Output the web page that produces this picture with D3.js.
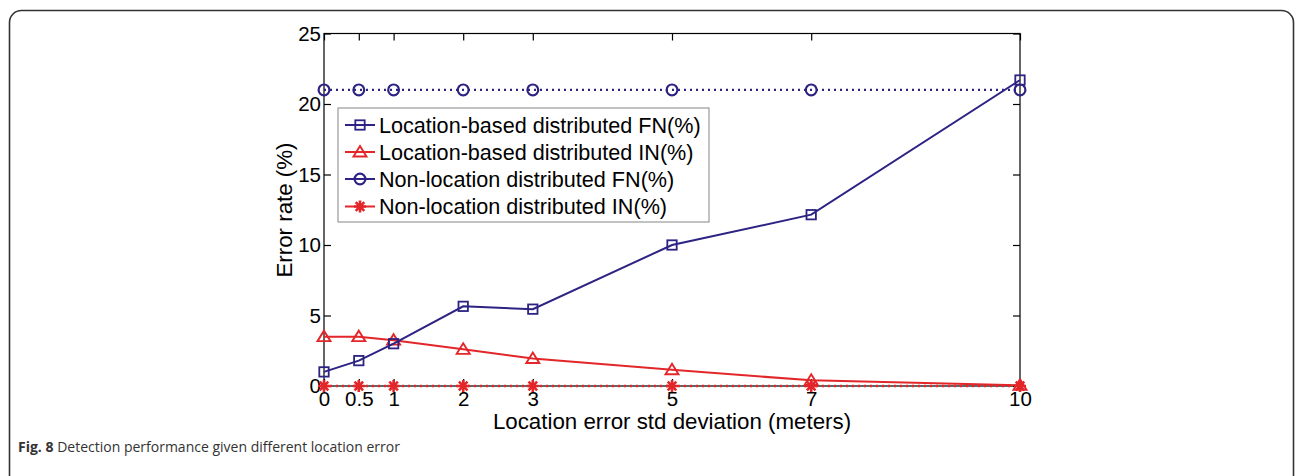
<!DOCTYPE html>
<html><head><meta charset="utf-8">
<script src="https://cdn.jsdelivr.net/npm/d3@7"></script>
<style>body{margin:0;background:#fff;}svg{display:block;}</style>
</head><body>
<svg id="c" width="1296" height="476"></svg>
<script>
const xValues = [0, 0.5, 1, 2, 3, 5, 7, 10];
const xTickLabels = ["0", "0.5", "1", "2", "3", "5", "7", "10"];
const yTicks = [0, 5, 10, 15, 20, 25];
const locFN = [1.0, 1.8, 3.0, 5.65, 5.45, 10.0, 12.15, 21.7];
const locIN = [3.5, 3.5, 3.25, 2.6, 1.95, 1.15, 0.4, 0.05];
const nonFN = [21, 21, 21, 21, 21, 21, 21, 21];
const nonIN = [0, 0, 0, 0, 0, 0, 0, 0];
const seriesNames = ["Location-based distributed FN(%)", "Location-based distributed IN(%)", "Non-location distributed FN(%)", "Non-location distributed IN(%)"];

const NAVY = "#2c2383", RED = "#e2262a";
const svg = d3.select("#c");
const font = "'Liberation Sans', Arial, sans-serif";

// frame
svg.append("rect").attr("x", 9.5).attr("y", 10.5).attr("width", 1284).attr("height", 480)
  .attr("rx", 12).attr("fill", "none").attr("stroke", "#333").attr("stroke-width", 1.6);

const L = 324, R = 1020, T = 33.5, B = 386;
const x = d3.scaleLinear().domain([0, 10]).range([L, R]);
const y = d3.scaleLinear().domain([0, 25]).range([B, T]);

const g = svg.append("g");
g.append("rect").attr("x", L).attr("y", T).attr("width", R - L).attr("height", B - T)
  .attr("fill", "none").attr("stroke", "#000").attr("stroke-width", 1.2);

const axB = d3.axisBottom(x).tickValues(xValues).tickFormat((d, i) => xTickLabels[i]).tickSizeInner(-7).tickSizeOuter(0).tickPadding(5);
const axT = d3.axisTop(x).tickValues(xValues).tickFormat("").tickSizeInner(-7).tickSizeOuter(0);
const axL = d3.axisLeft(y).tickValues(yTicks).tickSizeInner(-7).tickSizeOuter(0).tickPadding(3);
const axR = d3.axisRight(y).tickValues(yTicks).tickFormat("").tickSizeInner(-7).tickSizeOuter(0);
function style(sel) {
  sel.select(".domain").remove();
  sel.selectAll("line").attr("stroke", "#000").attr("stroke-width", 1.2);
  sel.selectAll("text").attr("font-family", font).attr("font-size", 20.5).attr("fill", "#000");
}
g.append("g").attr("transform", `translate(0,${B})`).call(axB).call(style);
g.append("g").attr("transform", `translate(0,${T})`).call(axT).call(style);
g.append("g").attr("transform", `translate(${L},0)`).call(axL).call(style);
g.append("g").attr("transform", `translate(${R},0)`).call(axR).call(style);

svg.append("text").attr("x", 672).attr("y", 429).attr("text-anchor", "middle")
  .attr("font-family", font).attr("font-size", 22.3).text("Location error std deviation (meters)");
svg.append("text").attr("transform", "translate(292,210) rotate(-90)").attr("text-anchor", "middle")
  .attr("font-family", font).attr("font-size", 22.3).text("Error rate (%)");

const line = d3.line().x((d, i) => x(xValues[i])).y(d => y(d));

function marker(sel, type, color) {
  if (type === "square") sel.append("rect").attr("x", -4.7).attr("y", -4.7).attr("width", 9.4).attr("height", 9.4).attr("fill", "none").attr("stroke", color).attr("stroke-width", 1.8);
  if (type === "triangle") sel.append("path").attr("d", "M0,-6L6.5,4.5L-6.5,4.5Z").attr("fill", "none").attr("stroke", color).attr("stroke-width", 1.9);
  if (type === "circle") sel.append("circle").attr("r", 5.4).attr("fill", "none").attr("stroke", color).attr("stroke-width", 2.2);
  if (type === "star") sel.append("path").attr("d", "M-6,0H6M0,-6V6M-4.3,-4.3L4.3,4.3M-4.3,4.3L4.3,-4.3").attr("fill", "none").attr("stroke", color).attr("stroke-width", 2.6);
}

const series = [
  {v: locFN, c: NAVY, m: "square", dash: null},
  {v: locIN, c: RED, m: "triangle", dash: null},
  {v: nonFN, c: NAVY, m: "circle", dash: "2,4"},
  {v: nonIN, c: RED, m: "star", dash: "2,4"}
];
series.slice().reverse().forEach(s => {
  g.append("path").attr("d", line(s.v)).attr("fill", "none").attr("stroke", s.c)
    .attr("stroke-width", s.dash ? 2.4 : 2).attr("stroke-dasharray", s.dash);
  s.v.forEach((d, i) => {
    marker(g.append("g").attr("transform", `translate(${x(xValues[i])},${y(d)})`), s.m, s.c);
  });
});

// legend
const lg = svg.append("g");
lg.append("rect").attr("x", 338).attr("y", 108).attr("width", 371).attr("height", 114)
  .attr("fill", "#fff").attr("stroke", "#999").attr("stroke-width", 1.2);
const rowsY = [125, 152, 179, 206.5];
series.forEach((s, i) => {
  const yy = rowsY[i];
  lg.append("line").attr("x1", 345).attr("x2", 375).attr("y1", yy).attr("y2", yy).attr("stroke", s.c).attr("stroke-width", 2);
  marker(lg.append("g").attr("transform", `translate(360,${yy})`), s.m, s.c);
  lg.append("text").attr("x", 379).attr("y", yy + 7.5).attr("font-family", font).attr("font-size", 21.6).text(seriesNames[i]);
});

// caption
const cap = svg.append("text").attr("x", 18).attr("y", 452).attr("font-family", "'Open Sans', 'Noto Sans', sans-serif").attr("font-size", 14).attr("fill", "#333");
cap.append("tspan").attr("font-weight", "bold").text("Fig. 8");
cap.append("tspan").text(" Detection performance given different location error");
</script>
</body></html>
